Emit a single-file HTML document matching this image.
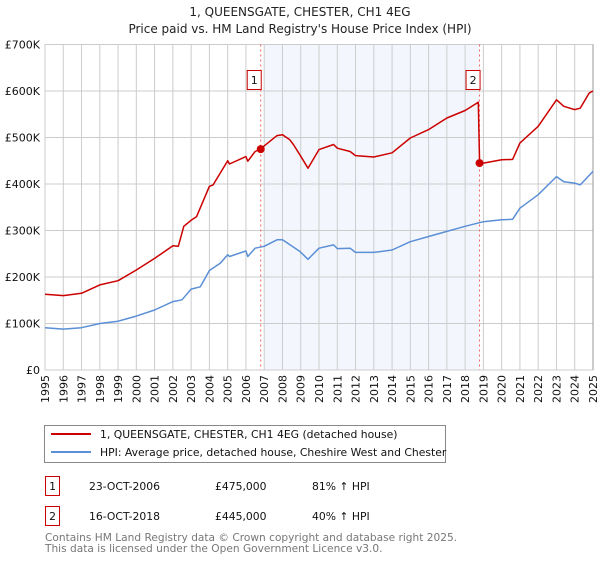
<!DOCTYPE html>
<html><head><meta charset="utf-8"><style>
body{margin:0;background:#fff;width:600px;height:560px;overflow:hidden;font-family:"DejaVu Sans","Liberation Sans",sans-serif}
svg text{font-family:"DejaVu Sans","Liberation Sans",sans-serif}
</style></head><body>
<svg id="chart" width="600" height="560" xmlns="http://www.w3.org/2000/svg">
<text x="300" y="16" text-anchor="middle" font-size="12" fill="#222">1, QUEENSGATE, CHESTER, CH1 4EG</text>
<text x="300" y="33" text-anchor="middle" font-size="12" fill="#222">Price paid vs. HM Land Registry's House Price Index (HPI)</text>
<g id="plot"></g>
<g>
<rect x="44.5" y="425.5" width="401" height="37" fill="#fff" stroke="#888"/>
<line x1="51" y1="434" x2="91" y2="434" stroke="#cc0000" stroke-width="2"/>
<text x="100" y="438" font-size="10.8" fill="#111">1, QUEENSGATE, CHESTER, CH1 4EG (detached house)</text>
<line x1="51" y1="452" x2="91" y2="452" stroke="#5b8fd6" stroke-width="2"/>
<text x="100" y="456" font-size="10.8" fill="#111">HPI: Average price, detached house, Cheshire West and Chester</text>
</g>
<g font-size="10.8" fill="#111">
<rect x="45.5" y="476.5" width="14" height="19" fill="#fff" stroke="#cc0000"/>
<text x="52.5" y="490" text-anchor="middle">1</text>
<text x="89" y="490">23-OCT-2006</text><text x="215" y="490">£475,000</text><text x="312" y="490">81% ↑ HPI</text>
<rect x="45.5" y="506.5" width="14" height="19" fill="#fff" stroke="#cc0000"/>
<text x="52.5" y="520" text-anchor="middle">2</text>
<text x="89" y="520">16-OCT-2018</text><text x="215" y="520">£445,000</text><text x="312" y="520">40% ↑ HPI</text>
</g>
<text x="45" y="541" font-size="10.6" fill="#777">Contains HM Land Registry data © Crown copyright and database right 2025.</text>
<text x="45" y="552" font-size="10.6" fill="#777">This data is licensed under the Open Government Licence v3.0.</text>
</svg>
<script>
const yTicks=[0,100000,200000,300000,400000,500000,600000,700000];
const yTickLabels=["£0","£100K","£200K","£300K","£400K","£500K","£600K","£700K"];
const xYears=[1995,1996,1997,1998,1999,2000,2001,2002,2003,2004,2005,2006,2007,2008,2009,2010,2011,2012,2013,2014,2015,2016,2017,2018,2019,2020,2021,2022,2023,2024,2025];
const hpiYears=[1995,1996,1997,1998,1999,2000,2001,2002,2002.5,2002.8,2003,2003.5,2004,2004.6,2005,2005.1,2006,2006.1,2006.5,2007,2007.7,2008,2008.95,2009.4,2010,2010.8,2011,2011.7,2012,2013,2014,2015,2016,2017,2018,2019,2020,2020.6,2021,2022,2023,2023.4,2024,2024.3,2025];
const hpiValues=[91000,88000,91000,100000,105000,116000,129000,147000,151000,165000,174000,179000,214000,230000,248000,244000,256000,244000,262000,266000,280000,280000,255000,238000,262000,269000,261000,262000,253000,253000,258000,276000,287000,298000,309000,319000,323000,324000,348000,377000,416000,405000,402000,398000,427000];
const priceYears=[1995,1996,1997,1998,1999,2000,2001,2002,2002.3,2002.6,2003,2003.3,2004,2004.2,2005,2005.1,2006,2006.1,2006.5,2006.8,2007,2007.7,2008,2008.4,2008.6,2008.95,2009.4,2010,2010.8,2011,2011.7,2012,2013,2014,2015,2016,2017,2018,2018.72,2018.79,2019,2020,2020.6,2021,2022,2023,2023.4,2024,2024.3,2024.8,2025];
const priceValues=[163000,160000,165000,183000,192000,215000,240000,267000,266000,309000,322000,330000,395000,398000,450000,443000,459000,449000,470000,475000,482000,504000,506000,495000,485000,463000,434000,474000,485000,477000,470000,461000,458000,467000,499000,517000,542000,558000,576000,445000,445000,452000,453000,488000,524000,581000,567000,560000,563000,596000,600000];
const sales=[{n:"1",year:2006.81,value:475000},{n:"2",year:2018.79,value:445000}];
const X0=45,X1=593,Y0=370,Y1=44.5;
function xs(y){return X0+(y-1995)/(2025-1995)*(X1-X0);}
function ys(v){return Y0-v/700000*(Y0-Y1);}
const NS="http://www.w3.org/2000/svg";
const g=document.getElementById('plot');
function mk(t,a){const e=document.createElementNS(NS,t);for(const k in a)e.setAttribute(k,a[k]);g.appendChild(e);return e;}
const shade=mk('rect',{x:xs(2007),y:Y1,width:xs(sales[1].year)-xs(2007),height:Y0-Y1,fill:'#eef3fc',opacity:0.7});


xYears.forEach(yr=>{const l=mk('line',{x1:xs(yr),x2:xs(yr),y1:Y1,y2:Y0,stroke:'#ccc','stroke-width':1});


const t=mk('text',{transform:`translate(${xs(yr)+4},${Y0+5}) rotate(-90)`,'text-anchor':'end','font-size':11,fill:'#111'});t.textContent=yr;

});
yTicks.forEach((v,i)=>{const l=mk('line',{x1:X0,x2:X1,y1:ys(v),y2:ys(v),stroke:'#ccc','stroke-width':1});


const t=mk('text',{x:40,y:ys(v)+4,'text-anchor':'end','font-size':11,fill:'#111'});t.textContent=yTickLabels[i];

});
const edge=mk('line',{x1:X1,x2:X1,y1:Y1,y2:Y0,stroke:'#999','stroke-width':1});


sales.forEach(s=>{const l=mk('line',{x1:xs(s.year),x2:xs(s.year),y1:Y1,y2:Y0,stroke:'#f06060','stroke-dasharray':'2,3','stroke-width':1});


const r=mk('rect',{x:xs(s.year)-13.5,y:70.5,width:14,height:19,fill:'#fff',stroke:'#cc0000'});


const t=mk('text',{x:xs(s.year)-6.5,y:84,'text-anchor':'middle','font-size':11,fill:'#111'});t.textContent=s.n;

});
function path(xa,va,col,name){const d=xa.map((y,i)=>(i?'L':'M')+xs(y).toFixed(1)+','+ys(va[i]).toFixed(1)).join('');
const p=mk('path',{d:d,fill:'none',stroke:col,'stroke-width':1.5,'stroke-linejoin':'round'});

}
path(hpiYears,hpiValues,'#5b8fd6','hpi-line');
path(priceYears,priceValues,'#cc0000','price-paid-line');
sales.forEach(s=>{const c=mk('circle',{cx:xs(s.year),cy:ys(s.value),r:4,fill:'#cc0000'});

});
</script>
</body></html>
